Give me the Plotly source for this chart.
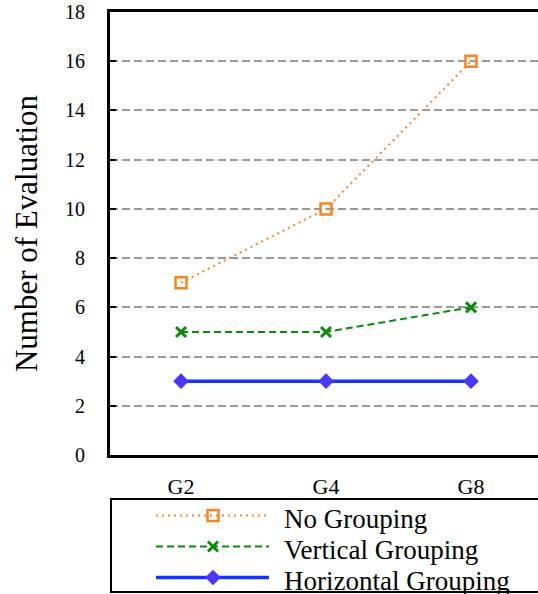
import plotly.graph_objects as go

# Group sizes and evaluation counts per strategy
groups = ["G2", "G4", "G8"]
no_grouping = [7, 10, 16]
vertical_grouping = [5, 5, 6]
horizontal_grouping = [3, 3, 3]
y_ticks = [0, 2, 4, 6, 8, 10, 12, 14, 16, 18]

series_names = ["No Grouping", "Vertical Grouping", "Horizontal Grouping"]

SERIF = "Liberation Serif"
ORANGE = "#f7841e"
GREEN = "#0a8a0a"
BLUE = "#1433ff"
DIAMOND = "#4a36ff"

styles = [
    dict(line=dict(color=ORANGE, width=2, dash="2px,4px"),
         marker=dict(symbol="square-open", size=11, color=ORANGE, line=dict(width=2.5, color=ORANGE))),
    dict(line=dict(color=GREEN, width=2, dash="7px,4px"),
         marker=dict(symbol="x-thin", size=10, color=GREEN, line=dict(width=3, color=GREEN))),
    dict(line=dict(color=BLUE, width=3.5),
         marker=dict(symbol="diamond", size=12, color=DIAMOND)),
]

fig = go.Figure()

for name, vals, st in zip(series_names, [no_grouping, vertical_grouping, horizontal_grouping], styles):
    fig.add_trace(go.Scatter(x=groups, y=vals, mode="lines+markers", name=name,
                             line=st["line"], marker=st["marker"], showlegend=False,
                             cliponaxis=False))

# Hand-built key below the plot: long sample line with a marker in the middle
key_x0, key_x1, key_mid = 156, 269, 213
key_rows = [515.5, 546.5, 577.5]
text_rows = [519, 550, 581]
for name, st, ky, ty in zip(series_names, styles, key_rows, text_rows):
    fig.add_trace(go.Scatter(x=[key_x0, key_mid, key_x1], y=[ky, ky, ky], mode="lines",
                             line=st["line"], xaxis="x2", yaxis="y2", showlegend=False,
                             hoverinfo="skip"))
    fig.add_trace(go.Scatter(x=[key_mid], y=[ky], mode="markers", marker=st["marker"],
                             xaxis="x2", yaxis="y2", showlegend=False, hoverinfo="skip"))
    fig.add_annotation(x=282, y=ty, xref="x2", yref="y2", text=name, showarrow=False,
                       xanchor="left", yanchor="middle",
                       font=dict(family=SERIF, size=27, color="black"))

fig.add_shape(type="rect", xref="x2", yref="y2", x0=111, x1=600, y0=499, y1=592,
              line=dict(color="black", width=2), fillcolor="rgba(0,0,0,0)")

main_bottom = (594 - 455) / 582

fig.update_layout(
    width=538, height=594,
    margin=dict(l=110, r=0, t=12, b=0, autoexpand=False),
    showlegend=False,
    paper_bgcolor="white", plot_bgcolor="white",
    font=dict(family=SERIF, color="black"),
    xaxis=dict(
        type="category", range=[-0.49, 2.462], domain=[0, 1],
        showline=True, linecolor="black", linewidth=3, mirror=True,
        showgrid=False, ticks="", zeroline=False,
        tickfont=dict(family=SERIF, size=22, color="black"),
        ticklabelstandoff=10, anchor="y", automargin=False,
    ),
    yaxis=dict(
        range=[0, 18], tickvals=y_ticks, domain=[main_bottom, 1],
        showline=True, linecolor="black", linewidth=3,
        ticks="inside", ticklen=6, tickwidth=2, tickcolor="black",
        showgrid=True, gridcolor="#999999", gridwidth=2, griddash="8px,4px",
        zeroline=False,
        tickfont=dict(family=SERIF, size=20, color="black"),
        ticklabelstandoff=18, automargin=False,
        title=dict(text="Number of Evaluation", font=dict(family=SERIF, size=31, color="black"),
                   standoff=19),
        anchor="x",
    ),
    xaxis2=dict(range=[110, 538], domain=[0, 1], visible=False, anchor="y2", fixedrange=True),
    yaxis2=dict(range=[594, 455], domain=[0, main_bottom], visible=False, anchor="x2", fixedrange=True),
)

fig.write_html("out.html")
